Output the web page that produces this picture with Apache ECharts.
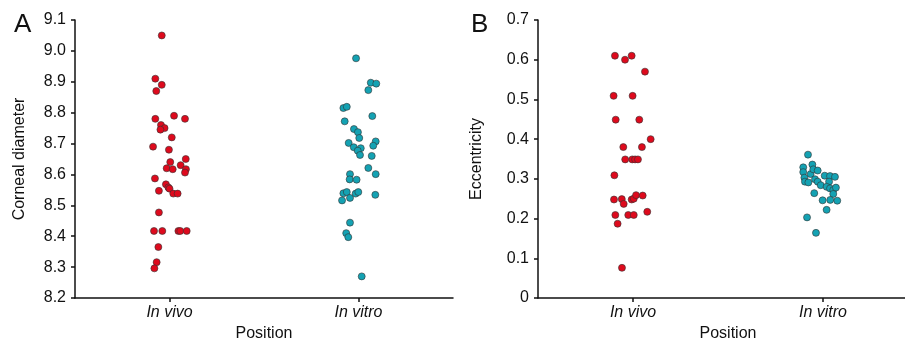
<!DOCTYPE html>
<html>
<head>
<meta charset="utf-8">
<script src="https://cdn.jsdelivr.net/npm/echarts@6/dist/echarts.min.js"></script>
<style>
  html, body { margin: 0; padding: 0; background: #fff; }
  #chart { width: 905px; height: 342px; }
</style>
</head>
<body>
<div id="chart"></div>
<script>
// categories on the x axis (positions 1 and 2)
const categories = ['In vivo', 'In vitro'];

// panel A: corneal diameter, values and horizontal jitter (offset from category)
const diamVivo = [9.05, 8.91, 8.89, 8.87, 8.78, 8.79, 8.78, 8.76, 8.75, 8.745, 8.72, 8.69, 8.68, 8.65,
  8.64, 8.63, 8.62, 8.617, 8.617, 8.606, 8.587, 8.568, 8.558, 8.554, 8.547, 8.538, 8.538, 8.477,
  8.417, 8.417, 8.417, 8.417, 8.417, 8.365, 8.316, 8.296];
const diamVivoJitter = [-0.041, -0.075, -0.041, -0.070, -0.075, 0.024, 0.082, -0.045, -0.026, -0.048, 0.012, -0.087, -0.003, 0.086,
  0.004, 0.059, -0.015, 0.017, 0.087, 0.082, -0.077, -0.019, -0.006, 0, -0.056, 0.020, 0.043, -0.056,
  -0.082, -0.038, 0.047, 0.057, 0.091, -0.059, -0.068, -0.080];
const diamVitro = [8.976, 8.897, 8.894, 8.873, 8.815, 8.819, 8.789, 8.772, 8.747, 8.737, 8.718, 8.702, 8.707, 8.693,
  8.688, 8.685, 8.677, 8.663, 8.660, 8.621, 8.601, 8.601, 8.584, 8.583, 8.539, 8.543, 8.516, 8.524,
  8.538, 8.543, 8.534, 8.444, 8.410, 8.397, 8.270];
const diamVitroJitter = [-0.013, 0.065, 0.094, 0.052, -0.080, -0.062, 0.073, -0.073, -0.024, -0.003, 0.004, -0.052, 0.091, 0.078,
  -0.025, 0.012, -0.004, 0.008, 0.070, 0.052, 0.091, -0.045, -0.047, -0.010, -0.080, -0.062, -0.087, -0.045,
  -0.015, -0.001, 0.089, -0.045, -0.065, -0.054, 0.017];

// panel B: eccentricity
const eccVivo = [0.610, 0.600, 0.610, 0.570, 0.509, 0.509, 0.449, 0.449, 0.400, 0.380, 0.380, 0.349, 0.349, 0.349, 0.349,
  0.309, 0.248, 0.249, 0.237, 0.248, 0.250, 0.259, 0.258, 0.209, 0.209, 0.209, 0.217, 0.187, 0.076];
const eccVivoJitter = [-0.095, -0.042, -0.007, 0.063, -0.102, -0.002, -0.091, 0.033, 0.093, -0.051, 0.047, -0.041, -0.004, 0.011, 0.026,
  -0.098, -0.100, -0.059, -0.049, -0.007, 0.004, 0.016, 0.051, -0.093, -0.025, 0.004, 0.075, -0.081, -0.058];
const eccVitro = [0.361, 0.329, 0.336, 0.317, 0.312, 0.324, 0.321, 0.303, 0.293, 0.291, 0.299, 0.293, 0.284, 0.308, 0.307,
  0.305, 0.293, 0.280, 0.276, 0.272, 0.278, 0.262, 0.264, 0.246, 0.247, 0.245, 0.222, 0.203, 0.164];
const eccVitroJitter = [-0.079, -0.104, -0.056, -0.104, -0.065, -0.051, -0.028, -0.098, -0.095, -0.077, -0.042, -0.028, -0.012, 0.009, 0.037,
  0.063, 0.032, 0.019, 0.037, 0.054, 0.068, 0.054, -0.046, -0.002, 0.038, 0.075, 0.019, -0.084, -0.037];

const RED = '#de0a1d';
const TEAL = '#14a2b3';
const FONT = 'Liberation Sans, Arial, sans-serif';

const points = (pos, vals, jit) => vals.map((v, i) => [pos + jit[i], v]);

const xAxisFor = (gridIndex) => ({
  type: 'value',
  gridIndex,
  min: 0.5,
  max: 2.5,
  name: 'Position',
  nameLocation: 'middle',
  nameGap: 27,
  nameTextStyle: { fontFamily: FONT, fontSize: 16, color: '#111' },
  axisLine: { onZero: false, lineStyle: { color: '#111', width: 1.5 } },
  axisTick: { show: true, customValues: [1, 2], length: 4, lineStyle: { color: '#111', width: 1.5 } },
  axisLabel: {
    customValues: [1, 2],
    formatter: (v) => categories[Math.round(v) - 1],
    fontFamily: FONT, fontSize: 16, fontStyle: 'italic', color: '#111', margin: 7
  },
  splitLine: { show: false }
});

const yAxisFor = (gridIndex, min, max, name, gap, fmt) => ({
  type: 'value',
  gridIndex,
  min, max, interval: 0.1,
  name,
  nameLocation: 'middle',
  nameGap: gap,
  nameTextStyle: { fontFamily: FONT, fontSize: 16, color: '#111' },
  axisLine: { show: true, lineStyle: { color: '#111', width: 1.5 } },
  axisTick: { show: true, length: 4, lineStyle: { color: '#111', width: 1.5 } },
  axisLabel: { fontFamily: FONT, fontSize: 16, color: '#111', margin: 9, formatter: fmt },
  splitLine: { show: false }
});

const dotSeries = (idx, data, color) => ({
  type: 'scatter',
  xAxisIndex: idx,
  yAxisIndex: idx,
  data,
  symbolSize: 7,
  itemStyle: { color, borderColor: '#333', borderWidth: 0.6, opacity: 1 },
  animation: false
});

const chart = echarts.init(document.getElementById('chart'), null, { renderer: 'canvas' });
chart.setOption({
  backgroundColor: '#fff',
  animation: false,
  title: [
    { text: 'A', left: 9, top: 7, textStyle: { fontFamily: FONT, fontSize: 26, fontWeight: 'normal', color: '#111' } },
    { text: 'B', left: 466, top: 7, textStyle: { fontFamily: FONT, fontSize: 26, fontWeight: 'normal', color: '#111' } }
  ],
  grid: [
    { left: 75, top: 20, width: 378, height: 278, outerBoundsMode: 'none' },
    { left: 538, top: 20, width: 380, height: 278, outerBoundsMode: 'none' }
  ],
  xAxis: [xAxisFor(0), xAxisFor(1)],
  yAxis: [
    yAxisFor(0, 8.2, 9.1, 'Corneal diameter', 47, (v) => v.toFixed(1)),
    yAxisFor(1, 0, 0.7, 'Eccentricity', 53, (v) => (v === 0 ? '0' : v.toFixed(1)))
  ],
  series: [
    dotSeries(0, points(1, diamVivo, diamVivoJitter), RED),
    dotSeries(0, points(2, diamVitro, diamVitroJitter), TEAL),
    dotSeries(1, points(1, eccVivo, eccVivoJitter), RED),
    dotSeries(1, points(2, eccVitro, eccVitroJitter), TEAL)
  ]
});
</script>
</body>
</html>
